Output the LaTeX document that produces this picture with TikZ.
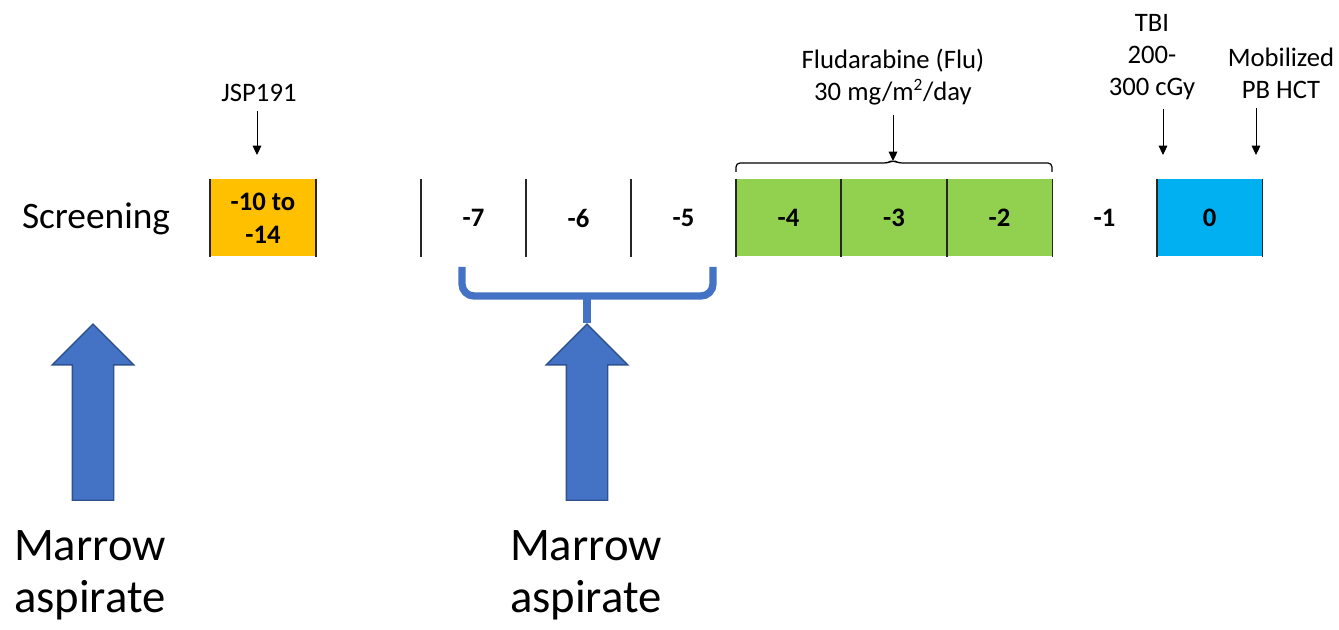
\documentclass[tikz,border=0pt]{standalone}
\usepackage{fontspec}
\setmainfont{Carlito}
\usetikzlibrary{arrows.meta,shapes.arrows,calc}

\definecolor{jspgold}{HTML}{FFC000}
\definecolor{flugreen}{HTML}{92D050}
\definecolor{hctblue}{HTML}{00B0F0}
\definecolor{aspblue}{HTML}{4472C4}
\definecolor{aspedge}{HTML}{2F528F}

\tikzset{
  day/.style={minimum width=78.9pt, minimum height=57.75pt, inner sep=0pt,
    align=center, font=\fontsize{20}{25}\selectfont\bfseries},
  note/.style={inner sep=0pt, align=center, font=\fontsize{20}{24}\selectfont},
  pointer/.style={-{Triangle[length=7pt,width=6.5pt]}, line width=0.75pt, shorten <=7pt},
  celledge/.style={line width=1.3pt, black!85},
  aspirate/.style={shape=single arrow, rotate=90, fill=aspblue, draw=aspedge,
    line width=1pt, minimum height=132pt, minimum width=60pt,
    single arrow head extend=15pt, single arrow head indent=0pt,
    inner xsep=0pt, inner ysep=15pt},
  aspbrace/.style={aspblue, line width=5.5pt},
  bigtext/.style={inner sep=0pt, align=left, anchor=north,
    font=\fontsize{35}{39}\selectfont},
}

\begin{document}
\begin{tikzpicture}[x=0.75pt, y=0.75pt]
\useasboundingbox (0,0) rectangle (1339,629);

\node[inner sep=0pt, font=\fontsize{28}{34}\selectfont] (screen) at (96,410) {Screening};

% days
\node[day, fill=jspgold] (d1014) at (263,411) {-10 to\\-14};
\node[day] (d7) at (473.5,411) {-7};
\node[day] (d6) at (578.5,411) {-6};
\node[day] (d5) at (683.5,411) {-5};
\node[day, fill=flugreen] (d4) at (788.5,411) {-4};
\node[day, fill=flugreen] (d3) at (894,411) {-3};
\node[day, fill=flugreen] (d2) at (999.5,411) {-2};
\node[day] (d1) at (1104.5,411) {-1};
\node[day, fill=hctblue] (d0) at (1209.5,411) {0};

\foreach \n in {d1014,d7,d6,d5,d4,d3,d2,d0}
  \draw[celledge] (\n.north west) -- (\n.south west);
\foreach \n in {d1014,d2,d0}
  \draw[celledge] (\n.north east) -- (\n.south east);

% treatments
\node[note] (jsp) at (259,536) {JSP191};
\node[note] (flu) at (893,552) {Fludarabine (Flu)\\30 mg/m\textsuperscript{\fontsize{13}{13}\selectfont 2}/day};
\node[note] (tbi) at (1152,572) {TBI\\200-\\300 cGy};
\node[note] (pbhct) at (1281,556) {Mobilized\\PB HCT};

\coordinate (jspend) at (257,474);
\coordinate (fluend) at (893,468);
\coordinate (tbiend) at (1163,474);
\coordinate (hctend) at (1256,474);

\draw[pointer] (jspend |- jsp.south) -- (jspend);
\draw[pointer] (fluend |- flu.south) -- (fluend);
\draw[pointer] (tbiend |- tbi.south) -- (tbiend);
\draw[pointer] (hctend |- pbhct.south) -- (hctend);

\coordinate (flul) at (736,457);
\coordinate (flur) at (1052,457);
\coordinate (flum) at (893,466);
\draw[line width=0.9pt, rounded corners=3] (flul) |- ($(flum)+(-5,0)$)
  -- ($(flum)+(0,3)$) -- ($(flum)+(5,0)$) -| (flur);

% marrow aspirates
\node[aspirate] (ma1) at (93,206.5) {};
\node[aspirate] (ma2) at (587,206.5) {};

\coordinate (asl) at (462,362);
\coordinate (asr) at (713,362);
\coordinate (asm) at (587,333);
\draw[aspbrace, rounded corners=9] (asl) |- (asm) -| (asr);
\draw[aspbrace] (asm) -- (ma2.tip);

\node[bigtext] (mt1) at (90,99) {Marrow\\aspirate};
\node[bigtext] (mt2) at (586,99) {Marrow\\aspirate};
\end{tikzpicture}
\end{document}
